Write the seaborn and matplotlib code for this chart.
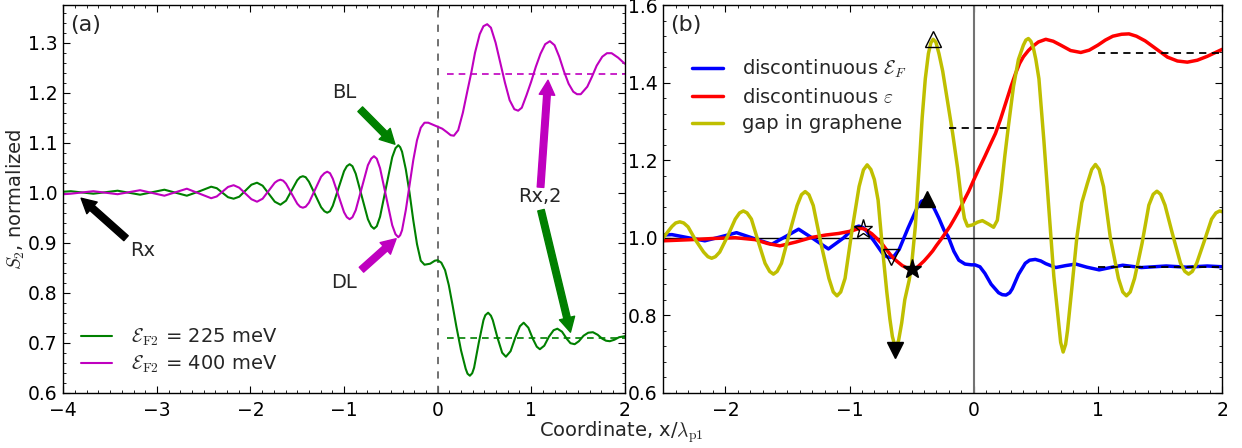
import matplotlib
matplotlib.use('Agg')
import matplotlib.pyplot as plt
import seaborn as sns
from matplotlib.ticker import MultipleLocator

# ---------------- panel (a): S2 for two Fermi energies ----------------
# (x / lambda_p1, S2 normalized)
green_pts = [(-4.00, 1.002), (-3.92, 1.003), (-3.80, 1.0005), (-3.68, 0.998), (-3.55, 1.001),
             (-3.42, 1.004), (-3.30, 1.000), (-3.18, 0.996), (-3.05, 1.001), (-2.92, 1.006),
             (-2.80, 1.000), (-2.68, 0.994), (-2.55, 1.0025), (-2.42, 1.012), (-2.36, 1.009),
             (-2.30, 1.000), (-2.24, 0.991), (-2.18, 0.988), (-2.12, 0.992), (-2.055, 1.004),
             (-1.99, 1.016), (-1.93, 1.020), (-1.87, 1.014), (-1.805, 0.998), (-1.74, 0.982),
             (-1.68, 0.976), (-1.62, 0.984), (-1.56, 1.0045), (-1.50, 1.025), (-1.47, 1.031),
             (-1.44, 1.033), (-1.41, 1.031), (-1.375, 1.022), (-1.31, 0.9965), (-1.245, 0.971),
             (-1.21, 0.963), (-1.18, 0.960), (-1.15, 0.963), (-1.12, 0.974), (-1.06, 1.0085),
             (-1.00, 1.043), (-0.97, 1.053), (-0.94, 1.057), (-0.91, 1.053), (-0.875, 1.038),
             (-0.81, 0.9925), (-0.745, 0.947), (-0.71, 0.933), (-0.68, 0.928), (-0.65, 0.933),
             (-0.615, 0.952), (-0.55, 1.0115), (-0.485, 1.071), (-0.45, 1.089), (-0.42, 1.095),
             (-0.40, 1.091), (-0.38, 1.082), (-0.34, 1.047), (-0.30, 1.000), (-0.26, 0.945),
             (-0.22, 0.897), (-0.18, 0.864), (-0.14, 0.856), (-0.08, 0.858), (-0.03, 0.864),
             (0.00, 0.865), (0.04, 0.860), (0.08, 0.845), (0.12, 0.815), (0.16, 0.775),
             (0.20, 0.733), (0.25, 0.685), (0.30, 0.648), (0.32, 0.638), (0.345, 0.634),
             (0.37, 0.639), (0.39, 0.650), (0.44, 0.700), (0.49, 0.745), (0.51, 0.755),
             (0.54, 0.760), (0.57, 0.754), (0.59, 0.745), (0.64, 0.710), (0.69, 0.680),
             (0.73, 0.672), (0.78, 0.683), (0.83, 0.710), (0.88, 0.733), (0.92, 0.740),
             (0.97, 0.730), (1.02, 0.707), (1.06, 0.692), (1.093, 0.687), (1.14, 0.694),
             (1.19, 0.712), (1.24, 0.725), (1.28, 0.728), (1.33, 0.722), (1.38, 0.708),
             (1.42, 0.699), (1.465, 0.697), (1.51, 0.703), (1.56, 0.714), (1.61, 0.720),
             (1.66, 0.721), (1.71, 0.716), (1.76, 0.708), (1.80, 0.704), (1.84, 0.703),
             (1.89, 0.706), (1.94, 0.711), (2.00, 0.713)]

magenta_pts = [(-4.00, 0.997), (-3.92, 0.998), (-3.80, 1.0005), (-3.68, 1.003), (-3.55, 1.000),
               (-3.42, 0.997), (-3.30, 1.001), (-3.18, 1.005), (-3.05, 0.9995), (-2.92, 0.994),
               (-2.80, 1.001), (-2.68, 1.008), (-2.55, 0.9985), (-2.42, 0.989), (-2.36, 0.9925),
               (-2.30, 1.002), (-2.24, 1.0115), (-2.18, 1.015), (-2.12, 1.010), (-2.055, 0.9985),
               (-1.99, 0.987), (-1.93, 0.982), (-1.87, 0.988), (-1.805, 1.004), (-1.74, 1.020),
               (-1.71, 1.024), (-1.68, 1.026), (-1.65, 1.024), (-1.62, 1.018), (-1.56, 0.998),
               (-1.50, 0.978), (-1.47, 0.972), (-1.44, 0.970), (-1.41, 0.972), (-1.375, 0.980),
               (-1.31, 1.006), (-1.245, 1.032), (-1.21, 1.039), (-1.18, 1.042), (-1.15, 1.039),
               (-1.12, 1.028), (-1.06, 0.9945), (-1.00, 0.961), (-0.97, 0.951), (-0.94, 0.947),
               (-0.91, 0.951), (-0.875, 0.965), (-0.81, 1.010), (-0.745, 1.055), (-0.71, 1.068),
               (-0.68, 1.073), (-0.65, 1.068), (-0.615, 1.049), (-0.55, 0.992), (-0.485, 0.935),
               (-0.45, 0.917), (-0.42, 0.911), (-0.40, 0.915), (-0.38, 0.925), (-0.34, 0.965),
               (-0.30, 1.015), (-0.26, 1.065), (-0.22, 1.105), (-0.18, 1.130), (-0.14, 1.140),
               (-0.10, 1.140), (-0.05, 1.136), (0.00, 1.132), (0.05, 1.128), (0.10, 1.121),
               (0.14, 1.115), (0.174, 1.114), (0.22, 1.125), (0.27, 1.160), (0.32, 1.205),
               (0.36, 1.240), (0.40, 1.280), (0.45, 1.317), (0.49, 1.333), (0.53, 1.337),
               (0.57, 1.330), (0.62, 1.300), (0.67, 1.260), (0.72, 1.220), (0.77, 1.185),
               (0.82, 1.167), (0.861, 1.164), (0.90, 1.170), (0.95, 1.195), (1.00, 1.222),
               (1.05, 1.252), (1.10, 1.278), (1.15, 1.297), (1.20, 1.303), (1.25, 1.295),
               (1.30, 1.272), (1.35, 1.243), (1.40, 1.218), (1.45, 1.202), (1.49, 1.197),
               (1.53, 1.197), (1.60, 1.212), (1.65, 1.232), (1.70, 1.254), (1.76, 1.272),
               (1.81, 1.279), (1.86, 1.279), (1.93, 1.270), (2.00, 1.258)]

# asymptotic levels (level, x start, x end)
levels_a = {'g': (0.710, 0.10, 2.0), 'm': (1.237, 0.10, 2.0)}

# annotation arrows: (tail x, tail y, tip x, tip y, colour)
arrows_a = [(-0.827, 1.167, -0.456, 1.097, 'g'),
            (-0.814, 0.846, -0.443, 0.908, 'm'),
            (-3.33, 0.909, -3.81, 0.989, 'k'),
            (1.10, 1.011, 1.18, 1.225, 'm'),
            (1.105, 0.965, 1.42, 0.721, 'g')]
labels_a = [('BL', -1.00, 1.200), ('DL', -1.00, 0.820), ('Rx', -3.15, 0.884), ('Rx,2', 1.09, 0.992)]

# ---------------- panel (b): three types of interface ----------------
blue_pts = [(-2.50, 1.007), (-2.43, 1.008), (-2.30, 1.000), (-2.165, 0.992), (-2.04, 1.002),
            (-1.91, 1.013), (-1.77, 0.998), (-1.627, 0.983), (-1.52, 1.002), (-1.41, 1.022),
            (-1.29, 0.997), (-1.17, 0.971), (-1.05, 0.999), (-0.96, 1.026), (-0.926, 1.030),
            (-0.89, 1.026), (-0.86, 1.016), (-0.80, 0.990), (-0.735, 0.960), (-0.70, 0.951),
            (-0.67, 0.949), (-0.64, 0.953), (-0.60, 0.970), (-0.53, 1.024), (-0.455, 1.078),
            (-0.42, 1.094), (-0.38, 1.099), (-0.345, 1.092), (-0.31, 1.070), (-0.28, 1.050),
            (-0.24, 1.020), (-0.206, 1.003), (-0.16, 0.965), (-0.12, 0.942), (-0.07, 0.932),
            (-0.02, 0.930), (0.01, 0.930), (0.05, 0.925), (0.09, 0.908), (0.14, 0.880),
            (0.20, 0.858), (0.23, 0.853), (0.26, 0.852), (0.29, 0.858), (0.31, 0.868),
            (0.36, 0.905), (0.415, 0.934), (0.45, 0.942), (0.496, 0.944), (0.54, 0.940),
            (0.58, 0.933), (0.66, 0.923), (0.74, 0.928), (0.822, 0.932), (0.91, 0.924),
            (1.01, 0.917), (1.10, 0.923), (1.20, 0.929), (1.35, 0.923), (1.55, 0.927),
            (1.71, 0.924), (1.88, 0.927), (2.00, 0.925)]

red_pts = [(-2.50, 0.992), (-2.27, 0.995), (-2.10, 0.998), (-1.92, 1.000), (-1.76, 0.995),
           (-1.66, 0.985), (-1.56, 0.979), (-1.43, 0.989), (-1.30, 1.001), (-1.19, 1.007),
           (-1.087, 1.011), (-0.99, 1.017), (-0.93, 1.023), (-0.90, 1.024), (-0.87, 1.021),
           (-0.82, 1.010), (-0.78, 0.998), (-0.74, 0.985), (-0.70, 0.968), (-0.67, 0.956),
           (-0.64, 0.945), (-0.606, 0.936), (-0.575, 0.928), (-0.55, 0.924), (-0.525, 0.920),
           (-0.50, 0.918), (-0.475, 0.920), (-0.45, 0.925), (-0.40, 0.940), (-0.364, 0.953),
           (-0.33, 0.966), (-0.30, 0.980), (-0.265, 0.995), (-0.23, 1.011), (-0.19, 1.030),
           (-0.15, 1.052), (-0.11, 1.075), (-0.08, 1.095), (-0.04, 1.120), (0.00, 1.149),
           (0.045, 1.180), (0.09, 1.210), (0.13, 1.238), (0.175, 1.269), (0.215, 1.305),
           (0.26, 1.350), (0.30, 1.390), (0.337, 1.424), (0.37, 1.450), (0.40, 1.467),
           (0.44, 1.483), (0.472, 1.493), (0.52, 1.505), (0.58, 1.512), (0.64, 1.507),
           (0.70, 1.497), (0.78, 1.483), (0.862, 1.478), (0.93, 1.484), (1.00, 1.497),
           (1.06, 1.510), (1.12, 1.520), (1.19, 1.525), (1.25, 1.526), (1.31, 1.520),
           (1.38, 1.508), (1.44, 1.494), (1.50, 1.480), (1.56, 1.466), (1.64, 1.456),
           (1.72, 1.453), (1.80, 1.458), (1.88, 1.468), (1.94, 1.477), (2.00, 1.486)]

yellow_pts = [(-2.50, 1.000), (-2.43, 1.029), (-2.40, 1.038), (-2.367, 1.041), (-2.335, 1.038),
              (-2.30, 1.028), (-2.24, 0.994), (-2.175, 0.963), (-2.14, 0.951), (-2.11, 0.947),
              (-2.08, 0.951), (-2.045, 0.963), (-1.98, 1.005), (-1.92, 1.048), (-1.885, 1.064),
              (-1.855, 1.069), (-1.825, 1.064), (-1.79, 1.048), (-1.735, 0.990), (-1.68, 0.934),
              (-1.643, 0.913), (-1.613, 0.906), (-1.583, 0.913), (-1.548, 0.934), (-1.485, 1.010),
              (-1.422, 1.083), (-1.387, 1.111), (-1.357, 1.119), (-1.327, 1.111), (-1.292, 1.083),
              (-1.23, 0.985), (-1.166, 0.895), (-1.131, 0.860), (-1.101, 0.850), (-1.071, 0.860),
              (-1.036, 0.895), (-0.98, 1.019), (-0.923, 1.132), (-0.888, 1.175), (-0.858, 1.188),
              (-0.828, 1.176), (-0.80, 1.150), (-0.77, 1.097), (-0.74, 0.990), (-0.70, 0.860),
              (-0.675, 0.790), (-0.655, 0.745), (-0.63, 0.715), (-0.605, 0.735), (-0.58, 0.780),
              (-0.555, 0.840), (-0.52, 0.890), (-0.50, 0.930), (-0.47, 1.030), (-0.44, 1.180),
              (-0.415, 1.310), (-0.39, 1.410), (-0.365, 1.475), (-0.345, 1.503), (-0.327, 1.512),
              (-0.305, 1.505), (-0.28, 1.475), (-0.25, 1.430), (-0.21, 1.350), (-0.17, 1.270),
              (-0.13, 1.180), (-0.10, 1.100), (-0.075, 1.050), (-0.05, 1.030), (-0.01, 1.033),
              (0.03, 1.040), (0.07, 1.044), (0.12, 1.035), (0.16, 1.027), (0.19, 1.045),
              (0.22, 1.120), (0.25, 1.210), (0.28, 1.290), (0.32, 1.390), (0.36, 1.460),
              (0.40, 1.497), (0.42, 1.510), (0.44, 1.514), (0.46, 1.507), (0.48, 1.490),
              (0.50, 1.460), (0.525, 1.410), (0.565, 1.250), (0.606, 1.070), (0.645, 0.900),
              (0.687, 0.770), (0.70, 0.730), (0.72, 0.705), (0.74, 0.725), (0.755, 0.760),
              (0.79, 0.870), (0.83, 1.000), (0.87, 1.090), (0.915, 1.140), (0.95, 1.176),
              (0.98, 1.189), (1.01, 1.176), (1.045, 1.132), (1.10, 1.000), (1.165, 0.895),
              (1.20, 0.860), (1.23, 0.850), (1.26, 0.860), (1.295, 0.895), (1.355, 0.985),
              (1.41, 1.084), (1.445, 1.112), (1.475, 1.120), (1.505, 1.112), (1.54, 1.084),
              (1.60, 1.010), (1.665, 0.934), (1.70, 0.913), (1.73, 0.906), (1.76, 0.913),
              (1.795, 0.934), (1.855, 0.990), (1.915, 1.048), (1.95, 1.064), (1.98, 1.069),
              (2.00, 1.067)]

levels_b = [(1.476, 1.0, 2.0), (0.925, 1.0, 2.0), (1.284, -0.20, 0.28)]

# special points: (x, y, marker, filled)
marks_b = [(-0.893, 1.022, '*', False), (-0.67, 0.951, 'v', False), (-0.50, 0.918, '*', True),
           (-0.38, 1.100, '^', True), (-0.327, 1.512, '^', False), (-0.63, 0.710, 'v', True)]

sns.set_style('ticks')
plt.rcParams.update({
    'font.family': ['DejaVu Sans'],
    'mathtext.fontset': 'cm',
    'font.size': 14,
    'xtick.direction': 'in', 'ytick.direction': 'in',
    'xtick.top': True, 'ytick.right': True,
    'xtick.major.size': 5, 'ytick.major.size': 5,
    'xtick.minor.size': 2.5, 'ytick.minor.size': 2.5,
    'xtick.color': 'k', 'ytick.color': 'k',
    'axes.edgecolor': 'k', 'axes.linewidth': 1.0,
})

fig = plt.figure(figsize=(12.42, 4.48), dpi=100)
ax1 = fig.add_axes([0.051, 0.1234, 0.452, 0.865])
ax2 = fig.add_axes([0.534, 0.1234, 0.450, 0.865])

# ---- (a)
ax1.axvline(0, color='0.4', ls='--', lw=1.3, dashes=(4, 4))
for pts, c, lab in [(green_pts, 'g', r'$\mathcal{E}_{\rm F2}$ = 225 meV'),
                    (magenta_pts, 'm', r'$\mathcal{E}_{\rm F2}$ = 400 meV')]:
    xs = [p[0] for p in pts]
    ys = [p[1] for p in pts]
    sns.lineplot(x=xs, y=ys, ax=ax1, color=c, lw=1.5, sort=False, estimator=None, label=lab)
    lv, x0, x1 = levels_a[c]
    ax1.plot([x0, x1], [lv, lv], color=c, ls='--', lw=1.2, dashes=(4, 3))

for tx, ty, hx, hy, c in arrows_a:
    ax1.annotate('', xy=(hx, hy), xytext=(tx, ty),
                 arrowprops=dict(arrowstyle='simple,head_length=0.75,head_width=0.8,tail_width=0.34',
                                 color=c, mutation_scale=14, shrinkA=0, shrinkB=0))
for s, x, y in labels_a:
    ax1.text(x, y, s, ha='center', va='center', fontsize=14)

ax1.set_xlim(-4, 2)
ax1.set_ylim(0.6, 1.375)
ax1.xaxis.set_major_locator(MultipleLocator(1))
ax1.xaxis.set_minor_locator(MultipleLocator(0.125))
ax1.yaxis.set_major_locator(MultipleLocator(0.1))
ax1.yaxis.set_minor_locator(MultipleLocator(0.02))
ax1.set_ylabel(r'$S_2$, normalized', fontsize=14, labelpad=1)
ax1.text(0.012, 0.975, '(a)', transform=ax1.transAxes, va='top', ha='left', fontsize=16)
ax1.legend(loc='lower left', bbox_to_anchor=(0.0, 0.0), frameon=False, fontsize=14,
           handlelength=1.6, handletextpad=1.0, labelspacing=0.3)

# ---- (b)
ax2.axvline(0, color='0.45', lw=1.5)
ax2.axhline(1.0, color='k', lw=1.0)
for pts, c, lab in [(blue_pts, 'b', r'discontinuous $\mathcal{E}_F$'),
                    (red_pts, 'r', r'discontinuous $\varepsilon$'),
                    (yellow_pts, 'y', 'gap in graphene')]:
    xs = [p[0] for p in pts]
    ys = [p[1] for p in pts]
    sns.lineplot(x=xs, y=ys, ax=ax2, color=c, lw=2.5, sort=False, estimator=None, label=lab)
for lv, x0, x1 in levels_b:
    ax2.plot([x0, x1], [lv, lv], color='k', ls='--', lw=1.3, dashes=(4, 3))
for x, y, mk, filled in marks_b:
    size = 14 if mk == '*' else 11
    ax2.plot([x], [y], marker=mk, ms=size, mec='k', mew=1.0,
             mfc='k' if filled else 'none', ls='none', zorder=5)

ax2.set_xlim(-2.5, 2)
ax2.set_ylim(0.6, 1.6)
ax2.xaxis.set_major_locator(MultipleLocator(1))
ax2.xaxis.set_minor_locator(MultipleLocator(0.1))
ax2.yaxis.set_major_locator(MultipleLocator(0.2))
ax2.yaxis.set_minor_locator(MultipleLocator(0.04))
ax2.text(0.012, 0.975, '(b)', transform=ax2.transAxes, va='top', ha='left', fontsize=16)
ax2.legend(loc='upper left', bbox_to_anchor=(0.02, 0.91), frameon=False, fontsize=14,
           handlelength=1.6, handletextpad=1.0, labelspacing=0.4)

for ax in (ax1, ax2):
    ax.tick_params(which='both', direction='in', top=True, right=True, labelsize=13.5)
    ax.tick_params(axis='x', pad=6)
    ax.tick_params(axis='y', pad=4)
    ax.set_xlabel('')

fig.text(0.5, 0.035, r'Coordinate, x/$\lambda_{\rm p1}$', ha='center', va='center', fontsize=14)
fig.savefig('out.png', dpi=100)
